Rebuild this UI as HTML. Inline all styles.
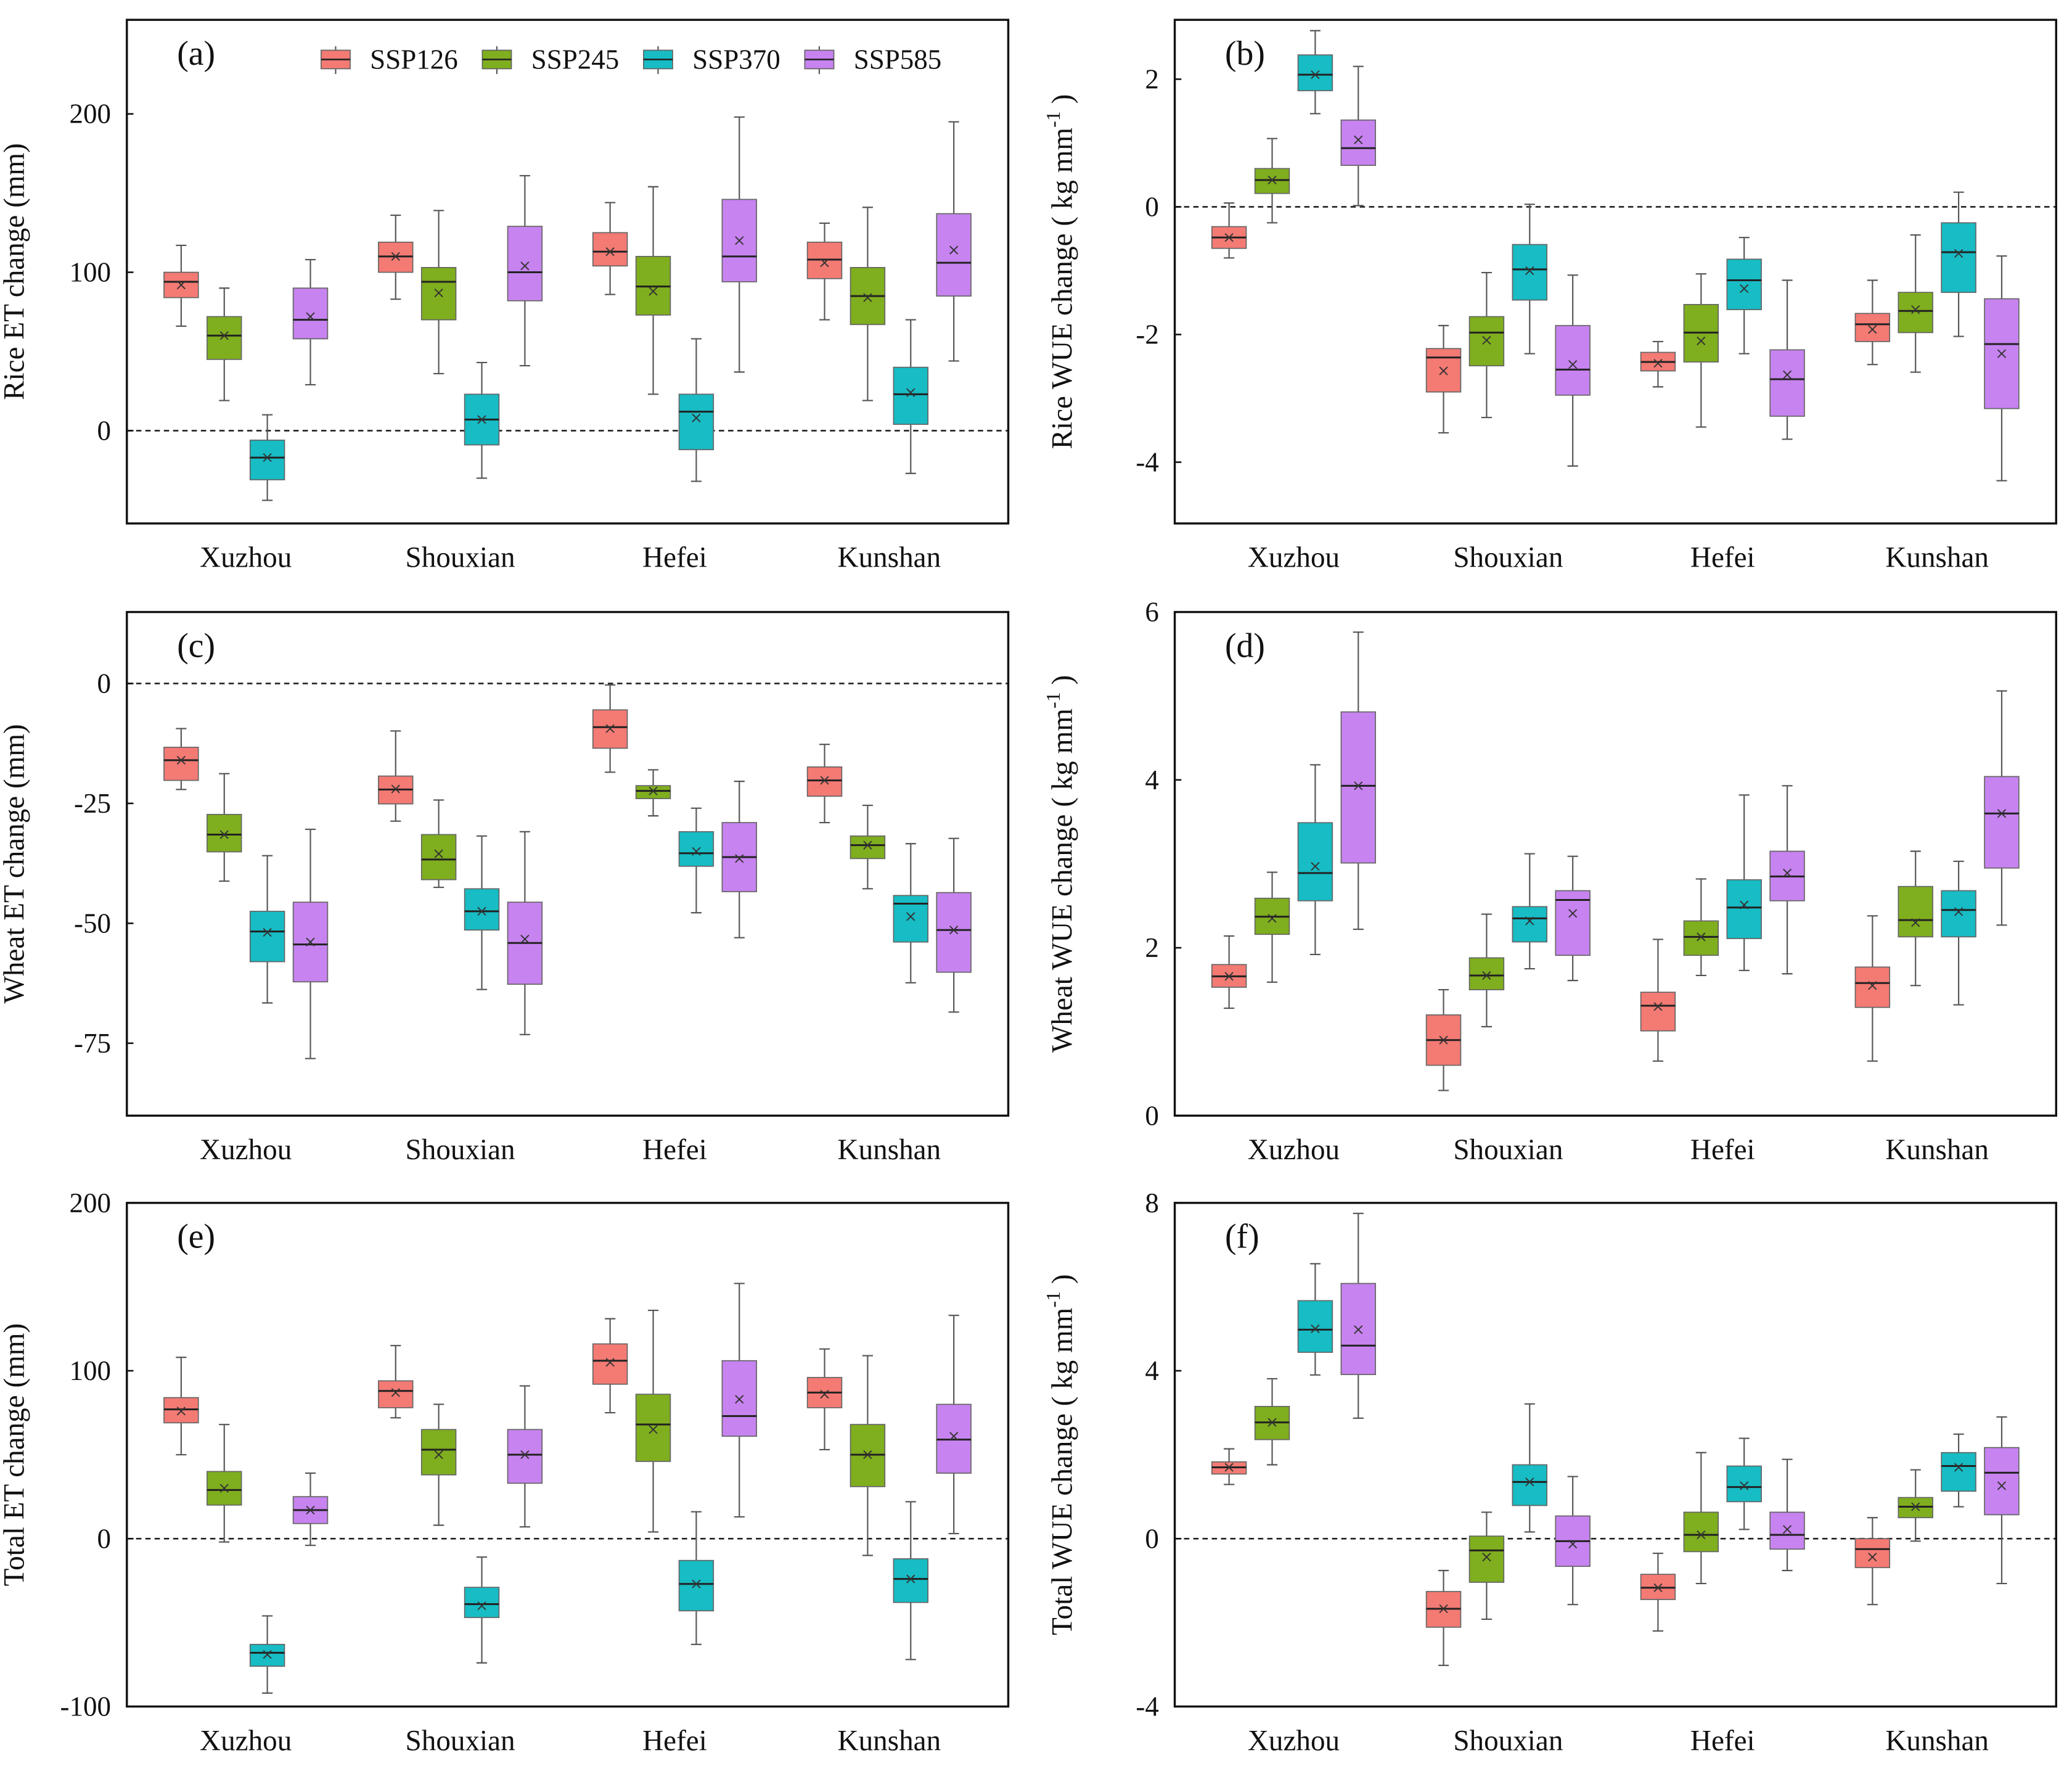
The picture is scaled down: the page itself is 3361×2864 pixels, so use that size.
<!DOCTYPE html>
<html><head><meta charset="utf-8"><style>
html,body{margin:0;padding:0;background:#fff}
svg{display:block}
text{font-family:"Liberation Serif",serif;fill:#111}
</style></head><body>
<svg id="chart" width="3361" height="2864" viewBox="0 0 1568 1336" preserveAspectRatio="none" xmlns="http://www.w3.org/2000/svg"></svg>
<script>
// data: each entry [min, q1, median, q3, max, mean] per site
const sites = ["Xuzhou","Shouxian","Hefei","Kunshan"];
const scenarios = ["SSP126","SSP245","SSP370","SSP585"];
const colors = ["#f47a74","#7fae1e","#17bcc4","#c783f0"];

const riceET126 = [[66,84,94,100,117,92],[83,100,110,119,136,110],[86,104,113,125,144,113],[70,96,108,119,131,106]];
const riceET245 = [[19,45,60,72,90,60],[36,70,94,103,139,87],[23,73,91,110,154,88],[19,67,85,103,141,84]];
const riceET370 = [[-44,-31,-17,-6,10,-17],[-30,-9,7,23,43,7],[-32,-12,12,23,58,8],[-27,4,23,40,70,24]];
const riceET585 = [[29,58,70,90,108,72],[41,82,100,129,161,104],[37,94,110,146,198,120],[44,85,106,137,195,114]];

const riceWUE126 = [[-0.8,-0.65,-0.48,-0.31,0.06,-0.48],[-3.54,-2.9,-2.36,-2.22,-1.86,-2.57],[-2.82,-2.57,-2.43,-2.28,-2.11,-2.45],[-2.47,-2.11,-1.84,-1.67,-1.15,-1.92]];
const riceWUE245 = [[-0.25,0.21,0.42,0.6,1.07,0.42],[-3.3,-2.49,-1.97,-1.72,-1.03,-2.09],[-3.45,-2.43,-1.97,-1.53,-1.05,-2.1],[-2.59,-1.97,-1.63,-1.34,-0.44,-1.61]];
const riceWUE370 = [[1.46,1.82,2.07,2.38,2.76,2.07],[-2.3,-1.46,-0.98,-0.59,0.04,-1.0],[-2.3,-1.61,-1.15,-0.82,-0.48,-1.28],[-2.03,-1.34,-0.71,-0.25,0.23,-0.73]];
const riceWUE585 = [[0.02,0.65,0.92,1.36,2.2,1.05],[-4.06,-2.95,-2.55,-1.86,-1.07,-2.47],[-3.64,-3.28,-2.7,-2.24,-1.15,-2.63],[-4.29,-3.16,-2.15,-1.44,-0.77,-2.3]];

const wheatET126 = [[-22.1,-20.2,-16,-13.3,-9.4,-16],[-28.7,-25.1,-22.1,-19.3,-9.9,-22],[-18.5,-13.5,-9.1,-5.5,-0.3,-9.4],[-29,-23.5,-20.2,-17.4,-12.7,-20.2]];
const wheatET245 = [[-41.2,-35.1,-31.5,-27.3,-18.8,-31.5],[-42.5,-40.9,-36.7,-31.5,-24.3,-35.5],[-27.6,-24,-22.4,-21.3,-18,-22.4],[-42.8,-36.5,-33.7,-31.8,-25.4,-33.7]];
const wheatET370 = [[-66.6,-58,-51.7,-47.5,-35.9,-51.9],[-63.8,-51.4,-47.5,-42.8,-31.8,-47.5],[-47.8,-38.1,-35.4,-30.9,-26,-35],[-62.4,-53.9,-45.9,-44.2,-33.4,-48.6]];
const wheatET585 = [[-78.2,-62.2,-54.4,-45.6,-30.4,-53.9],[-73.2,-62.7,-54.1,-45.6,-30.9,-53.3],[-53,-43.4,-36.2,-29,-20.4,-36.5],[-68.5,-60.2,-51.4,-43.6,-32.3,-51.4]];

const wheatWUE126 = [[1.28,1.53,1.66,1.8,2.14,1.66],[0.3,0.6,0.9,1.2,1.5,0.9],[0.65,1.01,1.31,1.47,2.1,1.3],[0.65,1.29,1.58,1.77,2.38,1.55]];
const wheatWUE245 = [[1.59,2.16,2.37,2.59,2.9,2.35],[1.06,1.5,1.67,1.88,2.4,1.67],[1.67,1.91,2.13,2.32,2.82,2.13],[1.55,2.13,2.33,2.73,3.15,2.3]];
const wheatWUE370 = [[1.92,2.56,2.89,3.49,4.18,2.97],[1.75,2.07,2.35,2.49,3.12,2.32],[1.73,2.11,2.48,2.81,3.82,2.51],[1.32,2.13,2.45,2.68,3.03,2.43]];
const wheatWUE585 = [[2.22,3.01,3.93,4.81,5.76,3.93],[1.61,1.91,2.57,2.68,3.09,2.41],[1.69,2.56,2.85,3.15,3.93,2.89],[2.27,2.95,3.6,4.04,5.06,3.6]];

const totalET126 = [[50,69,77,84,108,76],[72,78,88,94,115,87],[75,92,106,116,131,105],[53,78,87,96,113,86]];
const totalET245 = [[-2,20,29,40,68,30],[8,38,53,65,80,50],[4,46,68,86,136,65],[-10,31,50,68,109,50]];
const totalET370 = [[-92,-76,-68,-63,-46,-69],[-74,-47,-39,-29,-11,-40],[-63,-43,-27,-13,16,-27],[-72,-38,-24,-12,22,-24]];
const totalET585 = [[-4,9,17,25,39,17],[7,33,50,65,91,50],[13,61,73,106,152,83],[3,39,59,80,133,61]];

const totalWUE126 = [[1.29,1.54,1.7,1.83,2.14,1.7],[-3.02,-2.11,-1.67,-1.26,-0.76,-1.67],[-2.2,-1.45,-1.17,-0.85,-0.35,-1.17],[-1.57,-0.69,-0.25,0.0,0.5,-0.44]];
const totalWUE245 = [[1.76,2.36,2.77,3.15,3.81,2.77],[-1.92,-1.04,-0.28,0.06,0.63,-0.44],[-1.07,-0.31,0.09,0.63,2.05,0.09],[-0.06,0.5,0.76,0.98,1.64,0.76]];
const totalWUE370 = [[3.9,4.44,4.98,5.67,6.55,5.0],[0.16,0.79,1.35,1.76,3.21,1.35],[0.22,0.88,1.23,1.73,2.39,1.26],[0.76,1.13,1.73,2.05,2.49,1.7]];
const totalWUE585 = [[2.87,3.91,4.6,6.08,7.75,4.98],[-1.57,-0.66,-0.06,0.54,1.48,-0.13],[-0.76,-0.25,0.09,0.63,1.89,0.22],[-1.07,0.57,1.57,2.17,2.9,1.26]];

const ticksA = [0,100,200];
const ticksB = [-4,-2,0,2];
const ticksC = [-75,-50,-25,0];
const ticksD = [0,2,4,6];
const ticksE = [-100,0,100,200];
const ticksF = [-4,0,4,8];

const NS = "http://www.w3.org/2000/svg";
const svg = document.getElementById("chart");
function mk(tag, attrs, parent){
  const e = document.createElementNS(NS, tag);
  for (const k in attrs) e.setAttribute(k, attrs[k]);
  (parent||svg).appendChild(e);
  return e;
}

const panels = [
  {id:"a", x0:96, y0:15, dom:[-58.6,259.4], ticks:ticksA, zero:true, data:[riceET126,riceET245,riceET370,riceET585], title:"Rice ET change (mm)", wue:false, legend:true},
  {id:"b", x0:889, y0:15, dom:[-4.96,2.93], ticks:ticksB, zero:true, data:[riceWUE126,riceWUE245,riceWUE370,riceWUE585], title:"Rice WUE change", wue:true},
  {id:"c", x0:96, y0:463, dom:[-90.1,14.9], ticks:ticksC, zero:true, data:[wheatET126,wheatET245,wheatET370,wheatET585], title:"Wheat ET change (mm)", wue:false},
  {id:"d", x0:889, y0:463, dom:[0,6], ticks:ticksD, zero:false, data:[wheatWUE126,wheatWUE245,wheatWUE370,wheatWUE585], title:"Wheat WUE change", wue:true},
  {id:"e", x0:96, y0:910, dom:[-100,200], ticks:ticksE, zero:true, data:[totalET126,totalET245,totalET370,totalET585], title:"Total ET change (mm)", wue:false},
  {id:"f", x0:889, y0:910, dom:[-4,8], ticks:ticksF, zero:true, data:[totalWUE126,totalWUE245,totalWUE370,totalWUE585], title:"Total WUE change", wue:true}
];
const W = 667, H = 381;

panels.forEach(p => {
  const g = mk("g", {});
  
  
  const yS = v => p.y0 + H - (v - p.dom[0]) / (p.dom[1] - p.dom[0]) * H;
  const xS = i => p.x0 + 90 + i * 162.3;

  if (p.zero) {
    const z = mk("line", {x1:p.x0, x2:p.x0+W, y1:yS(0), y2:yS(0), stroke:"#222", "stroke-width":1.2, "stroke-dasharray":"4,3"}, g);
    
    
  }

  // boxes
  p.data.forEach((series, s) => {
    series.forEach((d, i) => {
      const cx = xS(i) + (s - 1.5) * 32.6;
      const bw = 26;
      const bg = mk("g", {}, g);
      
      
      mk("line", {x1:cx, x2:cx, y1:yS(d[4]), y2:yS(d[3]), stroke:"#555", "stroke-width":1}, bg);
      mk("line", {x1:cx, x2:cx, y1:yS(d[1]), y2:yS(d[0]), stroke:"#555", "stroke-width":1}, bg);
      mk("line", {x1:cx-4, x2:cx+4, y1:yS(d[4]), y2:yS(d[4]), stroke:"#555", "stroke-width":1}, bg);
      mk("line", {x1:cx-4, x2:cx+4, y1:yS(d[0]), y2:yS(d[0]), stroke:"#555", "stroke-width":1}, bg);
      mk("rect", {x:cx-bw/2, y:yS(d[3]), width:bw, height:Math.max(1, yS(d[1]) - yS(d[3])), fill:colors[s], stroke:"#666", "stroke-width":0.8}, bg);
      mk("line", {x1:cx-bw/2, x2:cx+bw/2, y1:yS(d[2]), y2:yS(d[2]), stroke:"#222", "stroke-width":1.4}, bg);
      const my = yS(d[5]);
      mk("path", {d:`M${cx-3},${my-3}L${cx+3},${my+3}M${cx-3},${my+3}L${cx+3},${my-3}`, stroke:"#333", "stroke-width":0.9}, bg);
    });
  });

  // frame
  const fr = mk("rect", {x:p.x0, y:p.y0, width:W, height:H, fill:"none", stroke:"#111", "stroke-width":1.6}, g);
  
  

  // y ticks
  p.ticks.forEach(t => {
    const y = yS(t);
    mk("line", {x1:p.x0, x2:p.x0+5, y1:y, y2:y, stroke:"#111", "stroke-width":1.2}, g);
    const tl = mk("text", {x:p.x0-12, y:y+7, "text-anchor":"end", "font-size":21}, g);
    tl.textContent = t;
    
    
  });
  // x labels
  sites.forEach((s, i) => {
    const xl = mk("text", {x:xS(i), y:p.y0+H+33, "text-anchor":"middle", "font-size":22}, g);
    xl.textContent = s;
    
    
  });
  // panel label
  const pl = mk("text", {x:p.x0+38, y:p.y0+34, "font-size":26}, g);
  pl.textContent = "(" + p.id + ")";
  
  

  // y title
  const tx = p.x0 - 78, ty = p.y0 + H/2;
  const yt = mk("text", {x:tx, y:ty, "text-anchor":"middle", "font-size":22, transform:`rotate(-90 ${tx} ${ty})`}, g);
  
  
  if (p.wue) {
    yt.textContent = p.title + " ( kg mm";
    const sup = mk("tspan", {"font-size":15, dy:-9}, yt);
    sup.textContent = "-1";
    const rest = mk("tspan", {dy:9}, yt);
    rest.textContent = " )";
  } else {
    yt.textContent = p.title;
  }

  if (p.legend) {
    const lx = [243, 365, 487, 609];
    scenarios.forEach((s, k) => {
      const lg = mk("g", {}, g);
      
      
      mk("line", {x1:lx[k]+11, x2:lx[k]+11, y1:35, y2:56, stroke:"#555", "stroke-width":1}, lg);
      mk("rect", {x:lx[k], y:38, width:22, height:14, fill:colors[k], stroke:"#666", "stroke-width":0.8}, lg);
      mk("line", {x1:lx[k], x2:lx[k]+22, y1:45, y2:45, stroke:"#222", "stroke-width":1.2}, lg);
      const lt = mk("text", {x:lx[k]+37, y:52, "font-size":21}, lg);
      lt.textContent = s;
    });
  }
});
</script>
</body></html>
